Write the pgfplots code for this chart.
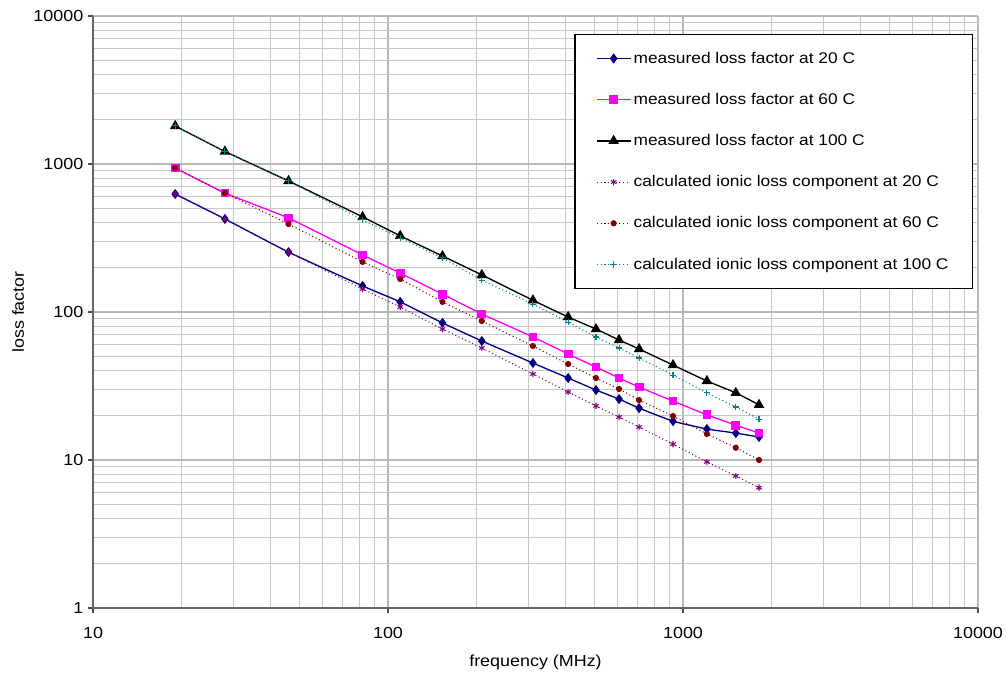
\documentclass[border=0pt]{standalone}
\usepackage{pgfplots}
\pgfplotsset{compat=1.18}
\usepackage{fontspec}
\setmainfont{Liberation Sans}[FakeStretch=1.12]
\definecolor{c20}{HTML}{000080}
\definecolor{c60}{HTML}{FF00FF}
\definecolor{c100}{HTML}{000000}
\definecolor{k20}{HTML}{800080}
\definecolor{k60}{HTML}{800000}
\definecolor{k100}{HTML}{008080}
\begin{document}
\begin{tikzpicture}
\begin{axis}[
  scale only axis, width=663.75pt, height=444pt,
  xmode=log, ymode=log,
  xmin=10, xmax=10000, ymin=1, ymax=10000,
  xtick={10,100,1000,10000}, xticklabels={10,100,1000,10000},
  ytick={1,10,100,1000,10000}, yticklabels={1,10,100,1000,10000},
  font=\fontsize{12}{14}\selectfont,
  xticklabel style={yshift=-7pt},
  axis x line=bottom, axis y line=left,
  axis line style={-, black!60, line width=0.8pt},
  tick align=outside, major tick length=3.75pt, minor tick length=0pt,
  tick style={black!70, line width=0.8pt},
  grid=both,
  major grid style={black!28, line width=0.9pt},
  minor grid style={black!22, line width=0.7pt},
  xlabel={frequency (MHz)}, ylabel={loss factor},
  xlabel style={at={(axis description cs:0.5,-0.0912)}, anchor=center},
  ylabel style={at={(axis description cs:-0.0847,0.5)}, anchor=center},
  legend cell align=left,
  legend style={at={(axis description cs:0.9944,0.9696)}, anchor=north east,
    draw=black, line width=0.8pt, inner xsep=16pt, inner ysep=11pt,
    row sep=17pt, font=\fontsize{11.6}{13.5}\selectfont},
  legend image code/.code={\draw[mark repeat=2,mark phase=2] plot coordinates {(0pt,0pt) (12.5pt,0pt) (25pt,0pt)};},
]
\addplot[c20, line width=1pt, smooth, tension=0.3, mark=diamond*, mark size=3pt, mark options={solid}] coordinates {
(19,627)(28,425)(46,254)(82,150)(110,117)(153,84.4)(208,63.7)(310,45.2)(408,35.8)(507,29.7)(607,25.8)(710,22.4)(925,18.3)(1205,16.2)(1510,15.2)(1810,14.3)};
\addlegendentry{measured loss factor at 20 C}
\addplot[c60, line width=1pt, smooth, tension=0.3, mark=square*, mark size=2.8pt, mark options={solid}] coordinates {
(19,940)(28,637)(46,431)(82,243)(110,183)(153,132)(208,97)(310,67.8)(408,52)(507,42.5)(607,35.8)(710,31.1)(925,25)(1205,20.2)(1510,17.2)(1810,15.2)};
\addlegendentry{measured loss factor at 60 C}
\addplot[c100, line width=1pt, smooth, tension=0.3, mark=triangle*, mark size=3.6pt, mark options={solid}] coordinates {
(19,1807)(28,1215)(46,768)(82,439)(110,327)(153,239)(208,178)(310,120)(408,92.5)(507,76.7)(607,64.7)(710,56.2)(925,43.8)(1205,34.2)(1510,28.4)(1810,23.6)};
\addlegendentry{measured loss factor at 100 C}
\addplot[k20, line width=0.8pt, dotted, mark=asterisk, mark size=2.4pt, mark options={solid}] coordinates {
(19,627)(28,425)(46,254)(82,143)(110,108)(153,76.7)(208,57.1)(310,38.1)(408,28.8)(507,23.2)(607,19.5)(710,16.7)(925,12.8)(1205,9.7)(1510,7.8)(1810,6.5)};
\addlegendentry{calculated ionic loss component at 20 C}
\addplot[k60, line width=0.8pt, dotted, mark=*, mark size=1.9pt, mark options={solid}] coordinates {
(19,940)(28,637)(46,393)(82,218)(110,167)(153,117)(208,86.9)(310,58.9)(408,44.5)(507,35.8)(607,30.2)(710,25.4)(925,19.8)(1205,15.0)(1510,12.1)(1810,10.0)};
\addlegendentry{calculated ionic loss component at 60 C}
\addplot[k100, line width=0.8pt, dotted, mark=+, mark size=2.4pt, mark options={solid}] coordinates {
(19,1807)(28,1215)(46,768)(82,419)(110,316)(153,232)(208,164)(310,113)(408,85.5)(507,67.8)(607,57.1)(710,48.9)(925,37.5)(1205,28.4)(1510,22.8)(1810,18.9)};
\addlegendentry{calculated ionic loss component at 100 C}
\end{axis}
\pgfresetboundingbox
\path (-69.75pt,-51.75pt) rectangle (684.75pt,456pt);
\end{tikzpicture}
\end{document}
